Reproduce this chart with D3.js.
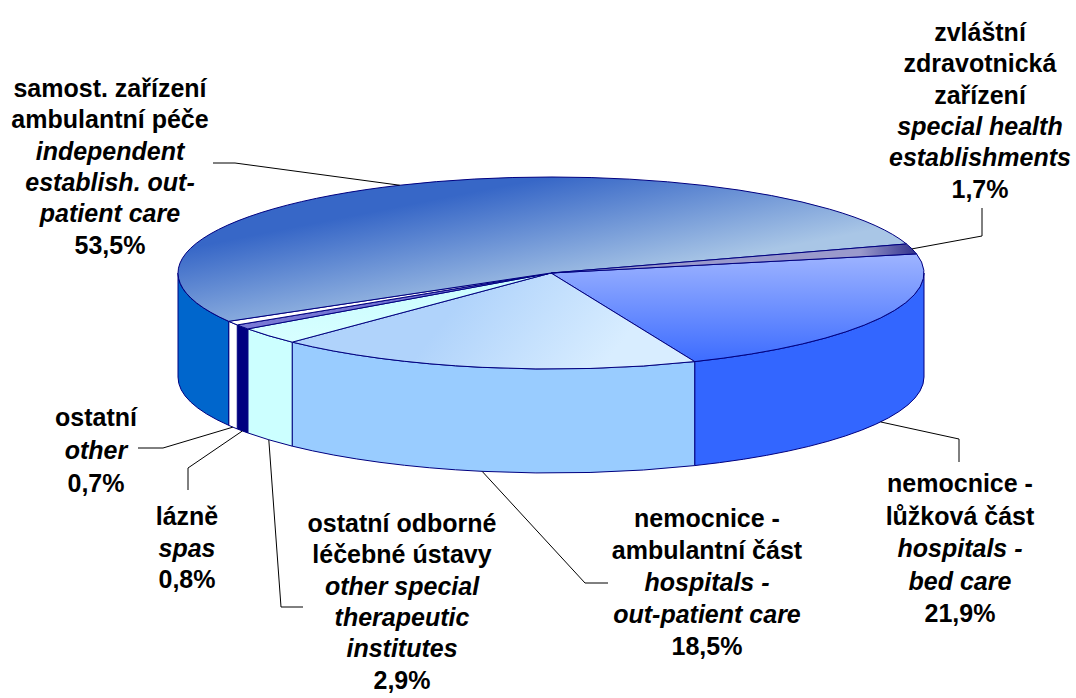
<!DOCTYPE html>
<html>
<head>
<meta charset="utf-8">
<script src="https://cdn.jsdelivr.net/npm/d3@7"></script>
<style>
    body { margin: 0; background: #fff; }
    text { font-family: "Liberation Sans", Arial, sans-serif; font-weight: bold; font-size: 25px; fill: #000; }
</style>
</head>
<body>
<svg id="chart" width="1076" height="698"></svg>
<script>
// slices, clockwise from the bed care slice
const categories = ["bedCare", "outPatient", "otherSpecial", "spas", "other", "independent", "specialHealth"];
const values = [21.9, 18.5, 2.9, 0.8, 0.7, 53.5, 1.7];
const namesCz = [
    ["nemocnice -", "lůžková část"],
    ["nemocnice -", "ambulantní část"],
    ["ostatní odborné", "léčebné ústavy"],
    ["lázně"],
    ["ostatní"],
    ["samost. zařízení", "ambulantní péče"],
    ["zvláštní", "zdravotnická", "zařízení"]
];
const namesEn = [
    ["hospitals -", "bed care"],
    ["hospitals -", "out-patient care"],
    ["other special", "therapeutic", "institutes"],
    ["spas"],
    ["other"],
    ["independent", "establish. out-", "patient care"],
    ["special health", "establishments"]
];
const sideColors = ["#3366FF", "#99CCFF", "#CCFFFF", "#000080", "#FFFFFF", "#0066CC", "#333399"];
const topColors = [
    ["#9db3ff", "#3a6aff"],
    ["#b0d3fb", "#d8edff"],
    ["#c8fcff", "#d8ffff"],
    ["#6c6cd0", "#7a7ad6"],
    ["#ffffff", "#ffffff"],
    ["#3767c7", "#a9c6e6"],
    ["#9a9acc", "#2a2a88"]
];

// label placement: centre x, first baseline, line step, leader elbow points, leader on top or bottom edge
const labelLayout = [
    { x: 960, y: 492, lh: 32.5, leader: [[959, 462], [959, 439]], edge: "bottom" },
    { x: 707, y: 527, lh: 32, leader: [[608, 583], [585, 583]], edge: "bottom" },
    { x: 402, y: 532, lh: 31.3, leader: [[303, 607], [281, 607]], edge: "bottom" },
    { x: 187, y: 525, lh: 31.5, leader: [[188, 490], [188, 468]], edge: "bottom" },
    { x: 96, y: 426, lh: 33, leader: [[138, 448], [163, 448]], edge: "bottom" },
    { x: 110, y: 97, lh: 31.3, leader: [[213, 163], [235, 163]], edge: "top" },
    { x: 980, y: 41, lh: 31.3, leader: [[982, 208], [982, 236]], edge: "top" }
];

const cx = 551, cy = 273, rx = 373, ry = 96, depth = 104;
const rot = (90 - 11.5) * Math.PI / 180;

const svg = d3.select("#chart");
const defs = svg.append("defs");

const pie = d3.pie().sort(null).value(d => d)
    .startAngle(rot).endAngle(rot + 2 * Math.PI);
const arcs = pie(values);

function pt(a, dy = 0) {
    const t = a - Math.PI / 2;
    return [cx + rx * Math.cos(t), cy + ry * Math.sin(t) + dy];
}

// gradients for the top faces
const gradDirs = [
    { x1: 0, y1: 255, x2: 0, y2: 365 },
    { x1: 480, y1: 275, x2: 600, y2: 370 },
    { x1: 0, y1: 270, x2: 0, y2: 345 },
    { x1: 0, y1: 270, x2: 0, y2: 330 },
    { x1: 0, y1: 270, x2: 0, y2: 330 },
    { x1: 545, y1: 178, x2: 567, y2: 290 },
    { x1: 860, y1: 0, x2: 920, y2: 0 }
];
categories.forEach((c, i) => {
    const g = defs.append("linearGradient")
        .attr("id", "top-" + c)
        .attr("gradientUnits", "userSpaceOnUse")
        .attr("x1", gradDirs[i].x1).attr("y1", gradDirs[i].y1)
        .attr("x2", gradDirs[i].x2).attr("y2", gradDirs[i].y2);
    g.append("stop").attr("offset", 0).attr("stop-color", topColors[i][0]);
    g.append("stop").attr("offset", 1).attr("stop-color", topColors[i][1]);
});

const chart = svg.append("g");

// side walls (only the front half of the cylinder is visible)
arcs.forEach((d, i) => {
    for (let k = 0; k < 2; k++) {
        const lo = Math.max(d.startAngle, Math.PI / 2 + 2 * Math.PI * k);
        const hi = Math.min(d.endAngle, 3 * Math.PI / 2 + 2 * Math.PI * k);
        if (hi <= lo) continue;
        const p0 = pt(lo), p1 = pt(hi), p2 = pt(hi, depth), p3 = pt(lo, depth);
        chart.append("path")
            .attr("d", `M${p0}A${rx},${ry} 0 0 1 ${p1}L${p2}A${rx},${ry} 0 0 0 ${p3}Z`)
            .attr("fill", sideColors[i])
            .attr("stroke", "#000080")
            .attr("stroke-width", 1)
            .attr("stroke-linejoin", "round");
    }
});

// top faces
arcs.forEach((d, i) => {
    const p0 = pt(d.startAngle), p1 = pt(d.endAngle);
    const large = d.endAngle - d.startAngle > Math.PI ? 1 : 0;
    chart.append("path")
        .attr("d", `M${cx},${cy}L${p0}A${rx},${ry} 0 ${large} 1 ${p1}Z`)
        .attr("fill", `url(#top-${categories[i]})`)
        .attr("stroke", "#000080")
        .attr("stroke-width", 1)
        .attr("stroke-linejoin", "round");
});

// leader lines
arcs.forEach((d, i) => {
    const lay = labelLayout[i];
    const mid = (d.startAngle + d.endAngle) / 2;
    const end = pt(mid, lay.edge === "bottom" ? depth : 0);
    const pts = lay.leader.concat([end]);
    chart.append("path")
        .attr("d", d3.line()(pts))
        .attr("fill", "none")
        .attr("stroke", "#000")
        .attr("stroke-width", 1);
});

// labels
const fmt = v => d3.format(".1f")(v).replace(".", ",") + "%";
arcs.forEach((d, i) => {
    const lay = labelLayout[i];
    const lines = namesCz[i].map(s => ({ s, it: false }))
        .concat(namesEn[i].map(s => ({ s, it: true })))
        .concat([{ s: fmt(values[i]), it: false }]);
    const t = chart.append("text")
        .attr("text-anchor", "middle");
    lines.forEach((l, j) => {
        t.append("tspan")
            .attr("x", lay.x)
            .attr("y", lay.y + j * lay.lh)
            .attr("font-style", l.it ? "italic" : "normal")
            .text(l.s);
    });
});
</script>
</body>
</html>
